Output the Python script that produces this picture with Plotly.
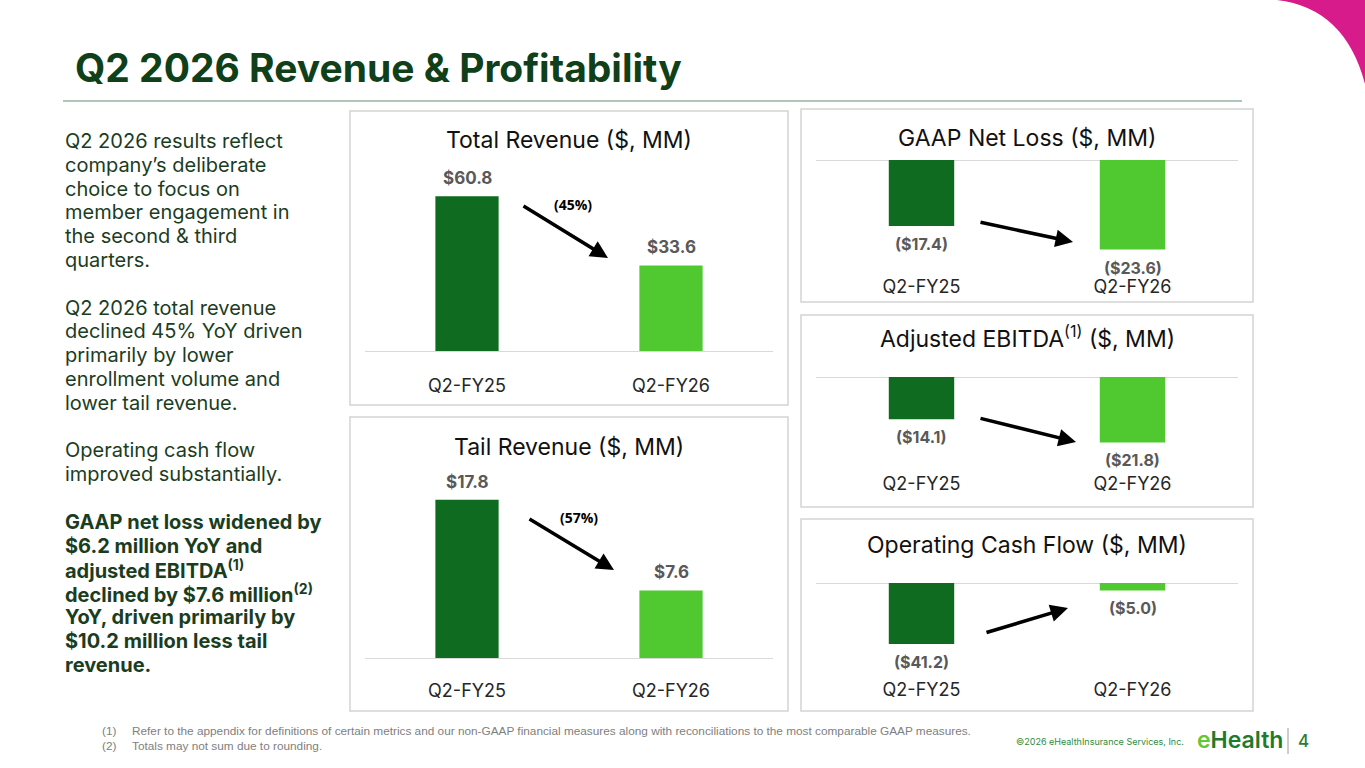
import plotly.graph_objects as go

W, H = 1365, 768

# ---------------- data ----------------
categories = ["Q2-FY25", "Q2-FY26"]
total_revenue = [60.8, 33.6]
tail_revenue = [17.8, 7.6]
gaap_net_loss = [-17.4, -23.6]
adjusted_ebitda = [-14.1, -21.8]
operating_cash_flow = [-41.2, -5.0]

panel_titles = [
    "Total Revenue ($, MM)",
    "Tail Revenue ($, MM)",
    "GAAP Net Loss ($, MM)",
    "Adjusted EBITDA<sup>(1)</sup> ($, MM)",
    "Operating Cash Flow ($, MM)",
]

slide_title = "Q2 2026 Revenue & Profitability"

body_lines = [
    "Q2 2026 results reflect",
    "company’s deliberate",
    "choice to focus on",
    "member engagement in",
    "the second & third",
    "quarters.",
    "",
    "Q2 2026 total revenue",
    "declined 45% YoY driven",
    "primarily by lower",
    "enrollment volume and",
    "lower tail revenue.",
    "",
    "Operating cash flow",
    "improved substantially.",
    "",
    "<b>GAAP net loss widened by</b>",
    "<b>$6.2 million YoY and</b>",
    "<b>adjusted EBITDA<sup>(1)</sup></b>",
    "<b>declined by $7.6 million<sup>(2)</sup></b>",
    "<b>YoY, driven primarily by</b>",
    "<b>$10.2 million less tail</b>",
    "<b>revenue.</b>",
]

footnotes = [
    ("(1)", "Refer to the appendix for definitions of certain metrics and our non-GAAP financial measures along with reconciliations to the most comparable GAAP measures."),
    ("(2)", "Totals may not sum due to rounding."),
]
copyright_text = "©2026 eHealthInsurance Services, Inc."
page_number = "4"

# ---------------- styles ----------------
DARK = "#0f6b20"
LIGHT = "#4fc92f"
TITLE_GREEN = "#10401a"
BODY_GREEN = "#1b3d1f"
LABEL_GRAY = "#595959"
BOX_GRAY = "#d3d3d3"
BASE_GRAY = "#d9d9d9"
FONT = "Inter"


def px(x):
    return x / W


def py(y):
    return 1 - y / H


def fmt(v):
    return f"${v:.1f}" if v >= 0 else f"(${-v:.1f})"


panels = [
    dict(values=total_revenue, box=(350, 111, 788, 405), xspan=(365, 773),
         dom=(160, 351), rng=(0, 75), standoff=22, title_y=140,
         arrow=((522, 205), (608, 258)), pct_pos=(573, 204)),
    dict(values=tail_revenue, box=(350, 417, 788, 711), xspan=(365, 773),
         dom=(466, 658), rng=(0, 21.6), standoff=20, title_y=447,
         arrow=((528, 518), (614, 570)), pct_pos=(579, 517)),
    dict(values=gaap_net_loss, box=(801, 109, 1253, 302), xspan=(816, 1238),
         dom=(160, 270), rng=(-29.0, 0), standoff=4, title_y=138,
         arrow=((979, 222), (1073, 242)), pct_pos=None),
    dict(values=adjusted_ebitda, box=(801, 315, 1253, 507), xspan=(816, 1238),
         dom=(377, 467), rng=(-30.0, 0), standoff=4, title_y=337,
         arrow=((979, 418), (1076, 442)), pct_pos=None),
    dict(values=operating_cash_flow, box=(801, 519, 1253, 711), xspan=(816, 1238),
         dom=(583, 673), rng=(-60.8, 0), standoff=4, title_y=545,
         arrow=((985, 633), (1068, 608)), pct_pos=None),
]

fig = go.Figure()
shapes = []
annotations = []
layout_axes = {}


def text_ann(x, y, text, size, color, family=FONT, xanchor="center", weight=None, **kw):
    font = dict(family=family, size=size, color=color)
    if weight is not None:
        font["weight"] = weight
    d = dict(x=px(x), y=py(y), xref="paper", yref="paper", text=text,
             showarrow=False, xanchor=xanchor, yanchor="middle", font=font)
    d.update(kw)
    return d


for i, (p, ptitle) in enumerate(zip(panels, panel_titles), start=1):
    xr = "x" if i == 1 else f"x{i}"
    yr = "y" if i == 1 else f"y{i}"
    xkey = "xaxis" if i == 1 else f"xaxis{i}"
    ykey = "yaxis" if i == 1 else f"yaxis{i}"
    vals = p["values"]

    fig.add_trace(go.Bar(
        x=categories, y=vals, xaxis=xr, yaxis=yr,
        marker=dict(color=[DARK, LIGHT], line=dict(width=0)),
        showlegend=False, hoverinfo="skip",
    ))

    d0, d1 = p["dom"]
    layout_axes[xkey] = dict(
        domain=[px(p["xspan"][0]), px(p["xspan"][1])], anchor=yr,
        type="category", showgrid=False, showline=False, zeroline=False,
        ticks="", ticklabelstandoff=p["standoff"],
        tickfont=dict(family=FONT, size=18, color="#262626"),
        fixedrange=True,
    )
    layout_axes[ykey] = dict(
        domain=[py(d1), py(d0)], anchor=xr, range=list(p["rng"]),
        showgrid=False, showline=False, showticklabels=False, ticks="",
        zeroline=True, zerolinecolor=BASE_GRAY, zerolinewidth=1,
        fixedrange=True,
    )

    # panel frame
    x0, y0, x1, y1 = p["box"]
    shapes.append(dict(type="rect", xref="paper", yref="paper",
                       x0=px(x0), x1=px(x1), y0=py(y1), y1=py(y0),
                       line=dict(color=BOX_GRAY, width=1.5), layer="below"))

    # panel title
    annotations.append(text_ann((x0 + x1) / 2, p["title_y"], ptitle, 23, "#111111"))

    # value labels
    for c, v in zip(categories, vals):
        annotations.append(dict(
            x=c, y=v, xref=xr, yref=yr, text=f"<b>{fmt(v)}</b>",
            showarrow=False, xanchor="center",
            yanchor="bottom" if v >= 0 else "top",
            yshift=6 if v >= 0 else -6,
            font=dict(family=FONT, size=17 if v >= 0 else 16, color=LABEL_GRAY),
        ))

    # trend arrow
    (tx, ty), (hx, hy) = p["arrow"]
    annotations.append(dict(
        x=px(hx), y=py(hy), xref="paper", yref="paper", text="",
        showarrow=True, ax=tx - hx, ay=ty - hy, axref="pixel", ayref="pixel",
        arrowhead=2, arrowsize=1, arrowwidth=3.5, arrowcolor="#000000",
        standoff=0, startstandoff=0,
    ))

    # percent change
    if p["pct_pos"] is not None:
        pct = (vals[1] - vals[0]) / vals[0] * 100
        ptxt = f"({abs(pct):.0f}%)" if pct < 0 else f"{pct:.0f}%"
        annotations.append(text_ann(p["pct_pos"][0], p["pct_pos"][1], f"<b>{ptxt}</b>",
                                    14, "#000000", family="Open Sans"))

# slide title
annotations.append(text_ann(73, 68, f"<b>{slide_title}</b>", 39, TITLE_GREEN, xanchor="left"))
shapes.append(dict(type="line", xref="paper", yref="paper",
                   x0=px(63), x1=px(1242), y0=py(101), y1=py(101),
                   line=dict(color="#5f8f73", width=1)))

# magenta corner
cx0, cy0 = 1277, 0
cxc, cyc = 1345, 8
cx2, cy2 = 1365, 84
path = (f"M {px(cx0)},{py(cy0)} Q {px(cxc)},{py(cyc)} {px(cx2)},{py(cy2)} "
        f"L {px(1365)},{py(0)} Z")
shapes.append(dict(type="path", xref="paper", yref="paper", path=path,
                   fillcolor="#d81b8a", line=dict(width=0)))

# body text, one line per annotation
for k, line in enumerate(body_lines):
    if line:
        annotations.append(text_ann(63, 141 + 23.8 * k, line, 20, BODY_GREEN, xanchor="left"))

# footnotes
for k, (mark, txt) in enumerate(footnotes):
    yy = 731 + 15 * k
    annotations.append(text_ann(100, yy, mark, 11.8, "#808080", family="Liberation Sans", xanchor="left"))
    annotations.append(text_ann(130, yy, txt, 11.8, "#808080", family="Liberation Sans", xanchor="left"))

# copyright + logo + page number
annotations.append(text_ann(1186, 741, copyright_text, 9, "#2e8b3e", xanchor="right"))
annotations.append(text_ann(1195, 740, "<span style='color:#5cc83a'>e</span>Health",
                            23, "#1f7a2e", xanchor="left", weight=600))
shapes.append(dict(type="line", xref="paper", yref="paper",
                   x0=px(1288), x1=px(1288), y0=py(728), y1=py(754),
                   line=dict(color="#9a9a9a", width=1)))
annotations.append(text_ann(1303, 741, page_number, 17, "#2e7d32", weight=500))

fig.update_layout(
    width=W, height=H, margin=dict(l=0, r=0, t=0, b=0),
    paper_bgcolor="white", plot_bgcolor="white",
    bargap=0.69, showlegend=False,
    shapes=shapes, annotations=annotations,
    **layout_axes,
)

fig.write_html("out.html", config={"displayModeBar": False},
               post_script="document.body.style.margin='0px';document.body.style.overflow='hidden';")
